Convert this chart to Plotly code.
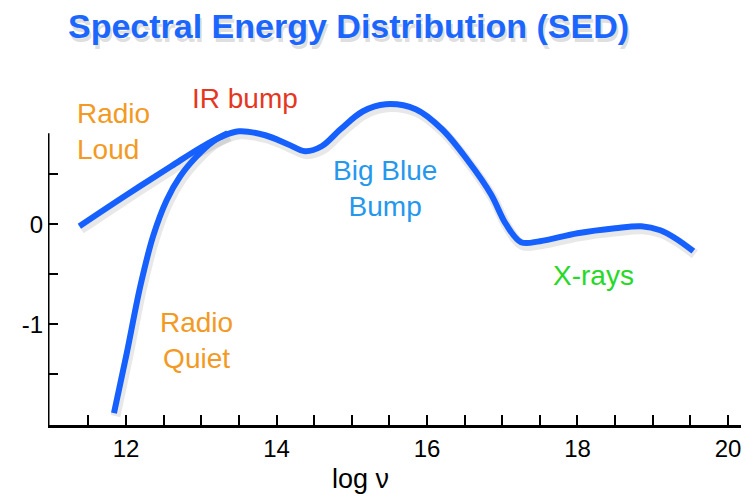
import plotly.graph_objects as go
import numpy as np

# Radio-loud / main SED curve (log nu, log nuF_nu relative)
loud_x = [11.38, 12.0, 12.6, 13.0, 13.25, 13.5, 13.85, 14.15, 14.38, 14.6, 14.85, 15.15,
          15.45, 15.85, 16.2, 16.55, 16.85, 17.05, 17.25, 17.5, 18.0, 18.5, 18.85, 19.1, 19.3, 19.54]
loud_y = [-0.02, 0.29, 0.58, 0.77, 0.87, 0.93, 0.89, 0.80, 0.73, 0.78, 0.95, 1.13,
          1.20, 1.15, 0.95, 0.63, 0.30, 0.0, -0.18, -0.17, -0.09, -0.04, -0.02, -0.06, -0.14, -0.27]

# Radio-quiet branch
quiet_x = [11.84, 12.01, 12.19, 12.36, 12.54, 12.72, 12.94, 13.16, 13.35]
quiet_y = [-1.89, -1.29, -0.62, -0.12, 0.24, 0.48, 0.68, 0.83, 0.91]

x_tick_vals = [11.5, 12, 12.5, 13, 13.5, 14, 14.5, 15, 15.5, 16, 16.5, 17, 17.5, 18, 18.5, 19, 19.5, 20]
x_tick_text = ["", "12", "", "", "", "14", "", "", "", "16", "", "", "", "18", "", "", "", "20"]
y_tick_vals = [-1.5, -1, -0.5, 0, 0.5]
y_tick_text = ["", "-1", "", "0", ""]

x_range = [10.963, 20.213]
y_range = [-2.009, 1.643]
y_axis_top = 0.91

LINE = "#1560ff"
FONT = "Liberation Sans"

# plot-area geometry inside the figure (px)
L, R, T, B = 40, 736, 52, 417.2
W, H = 749, 496
PW, PH = R - L, B - T


def paper_x(px):
    return (px - 8 - L) / PW


def paper_y(py):
    return (B - (py - 8)) / PH


fig = go.Figure()

# soft shadows
for xs, ys in [(loud_x, loud_y), (quiet_x, quiet_y)]:
    fig.add_trace(go.Scatter(x=np.array(xs) + 0.02, y=np.array(ys) - 0.03, mode="lines",
                             line=dict(color="rgba(0,0,0,0.09)", width=10, shape="spline", smoothing=1.0),
                             hoverinfo="skip", showlegend=False))

fig.add_trace(go.Scatter(x=quiet_x, y=quiet_y, mode="lines",
                         line=dict(color=LINE, width=6, shape="spline", smoothing=1.0),
                         showlegend=False))
fig.add_trace(go.Scatter(x=loud_x, y=loud_y, mode="lines",
                         line=dict(color=LINE, width=6, shape="spline", smoothing=1.0),
                         showlegend=False))

annots = [
    dict(x=11.32, y=0.93, text="Radio<br>Loud", xanchor="left", align="left", color="#f39a24"),
    dict(x=13.58, y=1.26, text="IR bump", xanchor="center", align="center", color="#e5371f"),
    dict(x=15.44, y=0.36, text="Big Blue<br>Bump", xanchor="center", align="center", color="#2597ec"),
    dict(x=12.93, y=-1.16, text="Radio<br>Quiet", xanchor="center", align="center", color="#f39a24"),
    dict(x=18.21, y=-0.51, text="X-rays", xanchor="center", align="center", color="#27d927"),
]
for a in annots:
    fig.add_annotation(x=a["x"], y=a["y"], xref="x", yref="y", text=a["text"], showarrow=False,
                       xanchor=a["xanchor"], yanchor="middle", align=a["align"],
                       font=dict(family=FONT, size=28, color=a["color"]))

# title with shadow
for dx, dy, col in [(2, -4, "rgba(0,0,0,0.14)"), (0, 0, "#1a66ff")]:
    fig.add_annotation(x=paper_x(348), y=paper_y(26), xref="paper", yref="paper",
                       text="<b>Spectral Energy Distribution (SED)</b>", showarrow=False,
                       xanchor="center", yanchor="middle", xshift=dx, yshift=dy,
                       font=dict(family=FONT, size=34, color=col))

# x axis title
fig.add_annotation(x=paper_x(360), y=paper_y(479), xref="paper", yref="paper", text="log ν",
                   showarrow=False, xanchor="center", yanchor="middle",
                   font=dict(family=FONT, size=27, color="black"))

# y axis line (partial)
fig.add_shape(type="line", xref="x", yref="y", x0=x_range[0], x1=x_range[0],
              y0=y_range[0] - 0.03, y1=y_axis_top, line=dict(color="black", width=3))

fig.update_layout(
    width=W, height=H,
    margin=dict(l=L, r=W - R, t=T, b=H - B, pad=0),
    paper_bgcolor="white", plot_bgcolor="white",
    showlegend=False,
    xaxis=dict(range=x_range, showgrid=False, zeroline=False, showline=True,
               linecolor="black", linewidth=3, ticks="inside", ticklen=10, tickwidth=1.5,
               tickcolor="black", tickvals=x_tick_vals, ticktext=x_tick_text,
               tickfont=dict(family=FONT, size=24, color="black")),
    yaxis=dict(range=y_range, showgrid=False, zeroline=False, showline=False,
               ticks="inside", ticklen=10, tickwidth=1.5, tickcolor="black",
               tickvals=y_tick_vals, ticktext=y_tick_text, ticklabelstandoff=4,
               tickfont=dict(family=FONT, size=24, color="black")),
)

fig.write_html("out.html")
